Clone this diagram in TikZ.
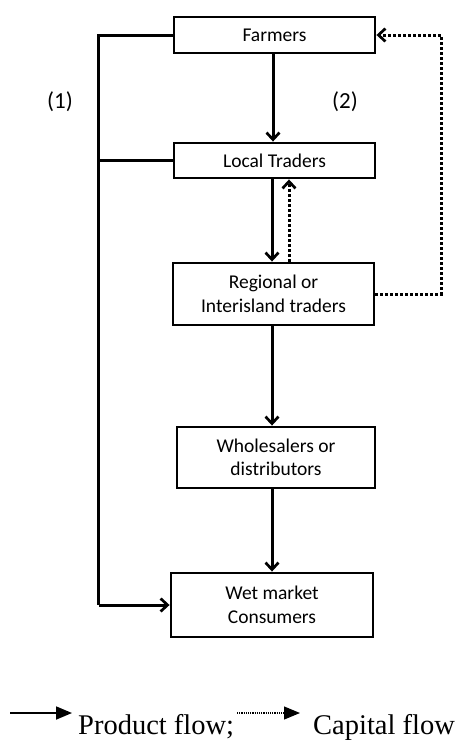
\documentclass[tikz,border=0pt]{standalone}
\usepackage{fontspec}
\setmainfont{Carlito}
\newfontfamily\legendfont{Liberation Serif}
\usetikzlibrary{arrows.meta}
\tikzset{
  flowbox/.style={draw, line width=2.9pt, inner sep=0pt, align=center,
    minimum width=201pt, font=\fontsize{19.5}{23.5}\selectfont},
  chev/.style={-{Straight Barb[length=7pt,width=13pt,line width=2.7pt]}},
  prod/.style={line width=3pt, chev},
  plain/.style={line width=3pt},
  capflow/.style={line width=3pt, dash pattern=on 2.6pt off 2.4pt, chev},
  lbl/.style={font=\fontsize{23}{26}\selectfont, inner sep=0pt},
  legtri/.style={-{Triangle[length=16pt,width=13pt]}},
  legtext/.style={font=\legendfont\fontsize{28.5}{30}\selectfont, inner sep=0pt, anchor=base west}
}
\begin{document}
\begin{tikzpicture}[x=1pt,y=-1pt]
\useasboundingbox (0,0) rectangle (461,740);
\node[flowbox, minimum height=36pt] (F) at (274.5,35) {Farmers};
\node[flowbox, minimum height=35pt] (L) at (274.5,160.5) {Local Traders};
\node[flowbox, minimum height=62pt] (R) at (273.5,294) {Regional or\\Interisland traders};
\node[flowbox, minimum height=61pt, minimum width=198pt] (H) at (276,457.5) {Wholesalers or\\distributors};
\node[flowbox, minimum height=64pt, minimum width=202pt] (W) at (272,605) {Wet market\\Consumers};
\coordinate (lx) at (98.5,0);
\coordinate (rx) at (441,0);
\node[lbl] (n1) at (60,102) {(1)};
\node[lbl] (n2) at (345,102) {(2)};
% product flows
\draw[prod] (F.south -| 273,0) -- (L.north -| 273,0);
\draw[prod] (L.south -| 272,0) -- (R.north -| 272,0);
\draw[prod] (R.south -| 272,0) -- (H.north -| 272,0);
\draw[prod] (H.south -| 272,0) -- (W.north -| 272,0);
\draw[plain] (F.west) -- (F.west -| lx) -- (W.west -| lx);
\draw[prod] (W.west -| lx) -- (W.west);
\draw[plain] (L.west) -- (L.west -| lx);
% capital flows
\draw[capflow] (R.north -| 289,0) -- (L.south -| 289,0);
\draw[capflow] (R.east) -- (R.east -| rx) -- (F.east -| rx) -- (F.east);
% legend
\coordinate (la) at (10,713);
\coordinate (lb) at (72,713);
\coordinate (lc) at (237,713);
\coordinate (ld) at (300,713);
\draw[line width=1.8pt, legtri] (la) -- (lb);
\node[legtext] (t1) at (78,734) {Product flow;};
\draw[line width=1.1pt, dash pattern=on 1.1pt off 1.1pt, legtri] (lc) -- (ld);
\node[legtext] (t2) at (313,734) {Capital flow};
\end{tikzpicture}
\end{document}
